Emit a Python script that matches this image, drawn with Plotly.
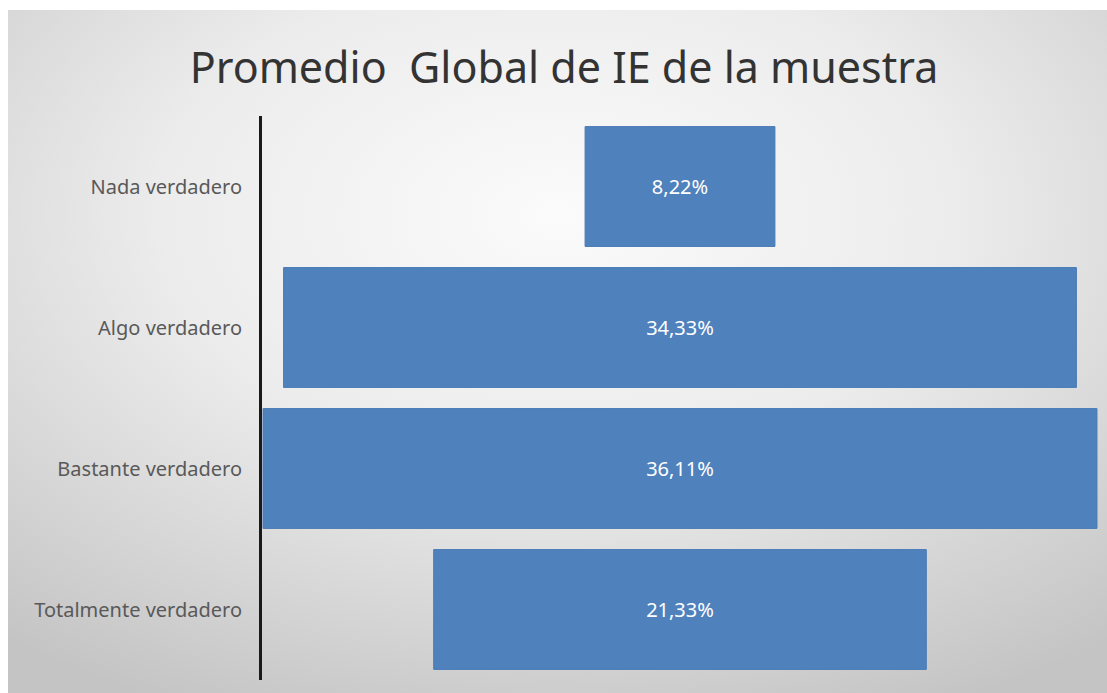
import base64
import plotly.graph_objects as go

categories = ["Nada verdadero", "Algo verdadero", "Bastante verdadero", "Totalmente verdadero"]
values = [8.22, 34.33, 36.11, 21.33]
title_text = "Promedio\u00a0 Global de IE de la muestra"

W, H = 1107, 693
ml, mr, mt, mb = 262, 9, 116, 13
pw, ph = W - ml - mr, H - mt - mb

svg = (
    "<svg xmlns='http://www.w3.org/2000/svg' width='1099' height='683' preserveAspectRatio='none'>"
    "<defs><radialGradient id='g' cx='50%' cy='30%' r='80%'>"
    "<stop offset='0' stop-color='#fbfbfb'/>"
    "<stop offset='0.45' stop-color='#ececec'/>"
    "<stop offset='1' stop-color='#c4c4c4'/>"
    "</radialGradient></defs>"
    "<rect x='0' y='0' width='1099' height='683' fill='url(#g)'/></svg>"
)
bg_src = "data:image/svg+xml;base64," + base64.b64encode(svg.encode()).decode()

bg_left, bg_top = 8, 10
fig = go.Figure(
    go.Funnel(
        y=categories,
        x=values,
        texttemplate="%{x:.2f}%",
        textposition="inside",
        insidetextanchor="middle",
        textfont=dict(family="Noto Sans", size=20, color="white"),
        marker=dict(color="#4F81BD", line=dict(color="#4a7ab5", width=1)),
        connector=dict(visible=False),
        hoverinfo="skip",
    )
)

fig.update_layout(
    width=W,
    height=H,
    margin=dict(l=ml, r=mr, t=mt, b=mb, pad=0),
    paper_bgcolor="white",
    plot_bgcolor="rgba(0,0,0,0)",
    separators=",.",
    funnelgap=0.15,
    showlegend=False,
    title=dict(
        text=title_text,
        x=564 / W,
        xanchor="center",
        y=1 - 68 / H,
        yanchor="middle",
        font=dict(family="Noto Sans", size=43, color="#333333"),
    ),
    xaxis=dict(visible=False, range=[-18.1, 18.1]),
    yaxis=dict(
        showline=True,
        linecolor="#1a1a1a",
        linewidth=3,
        showgrid=False,
        zeroline=False,
        ticks="",
        ticklabelstandoff=13,
        tickfont=dict(family="Noto Sans", size=20, color="#595959"),
    ),
    images=[
        dict(
            source=bg_src,
            xref="paper",
            yref="paper",
            x=(bg_left - ml) / pw,
            y=(H - mb - bg_top) / ph,
            sizex=(W - bg_left) / pw,
            sizey=(H - bg_top) / ph,
            xanchor="left",
            yanchor="top",
            sizing="stretch",
            layer="below",
        )
    ],
)

fig.write_html(
    "out.html",
    config={"displayModeBar": False},
    post_script="document.body.style.margin='0';document.body.style.overflow='hidden';",
)
